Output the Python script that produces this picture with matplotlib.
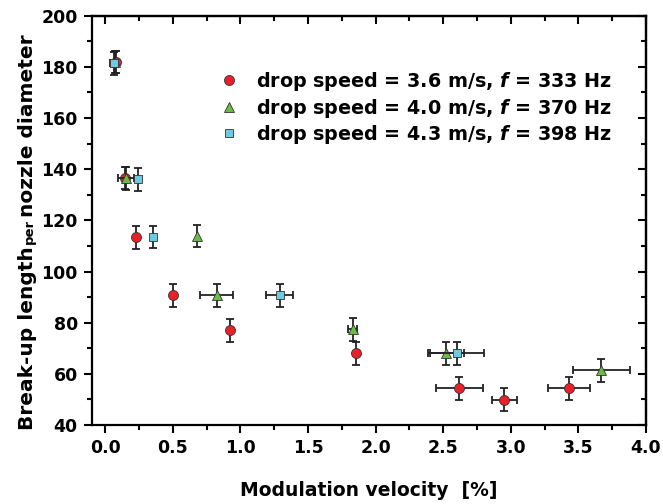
import matplotlib
matplotlib.use('Agg')
import matplotlib.pyplot as plt
from matplotlib.ticker import MultipleLocator

plt.rcParams['font.family'] = ['DejaVu Sans']
plt.rcParams['font.weight'] = 'bold'
plt.rcParams['axes.labelweight'] = 'bold'
plt.rcParams['mathtext.fontset'] = 'custom'
plt.rcParams['mathtext.it'] = 'DejaVu Sans:italic:bold'
plt.rcParams['mathtext.rm'] = 'DejaVu Sans:bold'

# data
red_x = [0.08, 0.15, 0.227, 0.505, 0.923, 1.852, 2.62, 2.952, 3.432]
red_y = [182.0, 136.5, 113.4, 90.7, 77.1, 68.0, 54.3, 49.8, 54.3]
red_xerr = [0.0, 0.0, 0.0, 0.0, 0.0, 0.0, 0.171, 0.092, 0.154]
red_yerr = [4.4, 4.4, 4.4, 4.5, 4.5, 4.5, 4.5, 4.5, 4.5]

green_x = [0.07, 0.152, 0.682, 0.825, 1.832, 2.518, 3.668]
green_y = [182.0, 136.4, 113.8, 90.7, 77.5, 68.0, 61.5]
green_xerr = [0.0, 0.06, 0.0, 0.123, 0.033, 0.133, 0.21]
green_yerr = [4.4, 4.4, 4.4, 4.5, 4.5, 4.5, 4.5]

cyan_x = [0.067, 0.244, 0.357, 1.29, 2.603]
cyan_y = [181.4, 136.0, 113.5, 90.7, 68.0]
cyan_xerr = [0.03, 0.0, 0.0, 0.10, 0.2]
cyan_yerr = [4.4, 4.4, 4.4, 4.5, 4.5]

labels = ['drop speed = 3.6 m/s, $f$ = 333 Hz',
          'drop speed = 4.0 m/s, $f$ = 370 Hz',
          'drop speed = 4.3 m/s, $f$ = 398 Hz']

series = [
    (red_x, red_y, red_xerr, red_yerr, 'o', '#e8202a', 7.2),
    (green_x, green_y, green_xerr, green_yerr, '^', '#6cbb44', 7.5),
    (cyan_x, cyan_y, cyan_xerr, cyan_yerr, 's', '#6ccbe0', 6.0),
]

fig = plt.figure(figsize=(6.63, 5.04), dpi=100)
ax = fig.add_axes([0.1383, 0.1567, 0.8361, 0.8121])

handles = []
for i, (x, y, xe, ye, m, c, ms) in enumerate(series):
    ax.errorbar(x, y, xerr=xe, yerr=ye, fmt='none', ecolor='#222222',
                elinewidth=1.3, capsize=3.2, capthick=1.3, zorder=2 + 2 * i)
    h, = ax.plot(x, y, linestyle='none', marker=m, ms=ms, mfc=c,
                 mec='#333333', mew=0.6, zorder=3 + 2 * i, label=labels[i])
    handles.append(h)

ax.set_xlim(-0.1, 4.0)
ax.set_ylim(40, 200)
ax.xaxis.set_major_locator(MultipleLocator(0.5))
ax.xaxis.set_minor_locator(MultipleLocator(0.25))
ax.yaxis.set_major_locator(MultipleLocator(20))
ax.yaxis.set_minor_locator(MultipleLocator(10))

for sp in ax.spines.values():
    sp.set_linewidth(1.6)
ax.tick_params(which='major', direction='out', length=6, width=1.5, labelsize=12.5, pad=4)
ax.tick_params(which='minor', direction='out', length=3.5, width=1.5)
ax.set_xticklabels([f'{v:.1f}' for v in ax.get_xticks()])

# mirrored ticks on top and right, pointing inward
top = ax.secondary_xaxis('top')
top.xaxis.set_major_locator(MultipleLocator(0.5))
top.xaxis.set_minor_locator(MultipleLocator(0.25))
top.tick_params(which='major', direction='in', length=6, width=1.5, labeltop=False)
top.tick_params(which='minor', direction='in', length=3.5, width=1.5)
top.spines['top'].set_linewidth(1.6)
right = ax.secondary_yaxis('right')
right.yaxis.set_major_locator(MultipleLocator(20))
right.yaxis.set_minor_locator(MultipleLocator(10))
right.tick_params(which='major', direction='in', length=6, width=1.5, labelright=False)
right.tick_params(which='minor', direction='in', length=3.5, width=1.5)
right.spines['right'].set_linewidth(1.6)

ax.set_xlabel('Modulation velocity  [%]', fontsize=13.5, labelpad=17)

ax.legend(handles=handles, loc='upper left', bbox_to_anchor=(0.2297, 0.867),
          frameon=False, fontsize=13.8, borderpad=0, borderaxespad=0,
          handlelength=1.0, handletextpad=0.95, labelspacing=0.18)

# y label with a small "per" in the middle
fig.canvas.draw()
r = fig.canvas.get_renderer()
ypos = 74
for txt, fs in [('Break-up length', 14.5), ('per', 9.5), ('nozzle diameter', 14.5)]:
    t = fig.text(33 / 663, ypos / 504, txt, rotation=90, rotation_mode='anchor',
                 ha='left', va='baseline', fontsize=fs)
    bb = t.get_window_extent(r)
    ypos += bb.height + 2

fig.savefig('out.png', dpi=100)
